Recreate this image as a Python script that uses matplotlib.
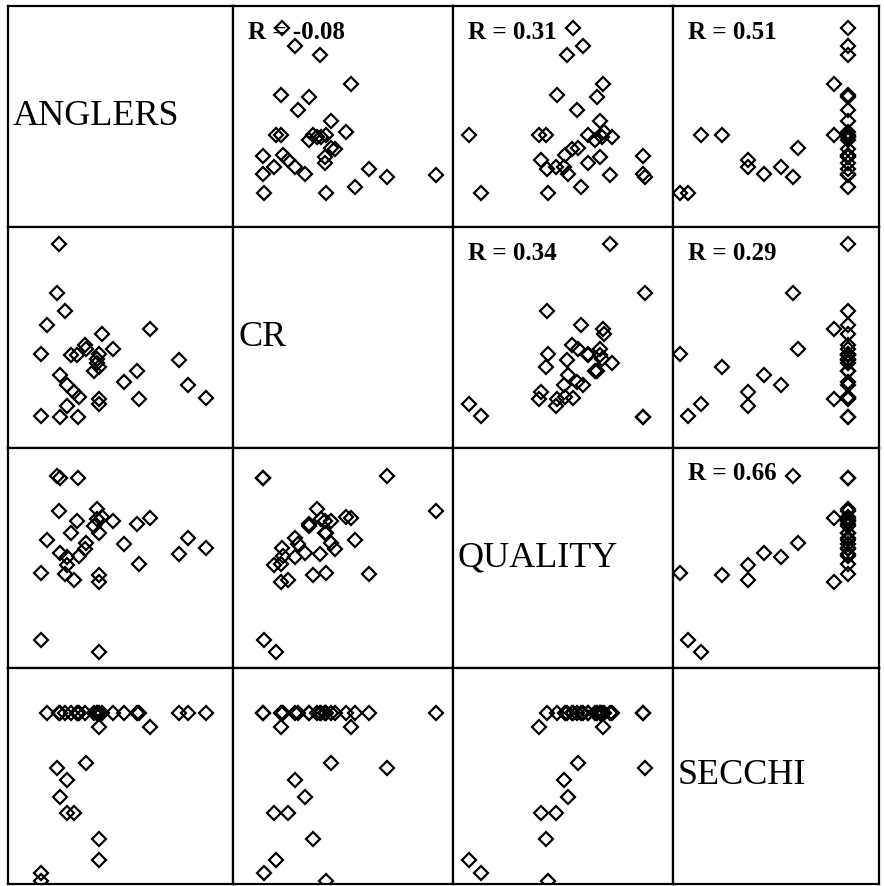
import matplotlib.pyplot as plt

# scatterplot matrix, values (panel units, 0-220)
names = ["ANGLERS", "CR", "QUALITY", "SECCHI"]

anglers = [78, 49, 59, 52, 59, 66, 91, 91, 33, 33, 91, 142,
           51, 57, 39, 94, 77, 105, 63, 69, 91, 171, 89, 86,
           129, 116, 180, 71, 198, 131, 52, 70, 89]
cr = [98, 154, 62, 72, 41, 55, 80, 43, 31, 93, 48, 118,
      203, 136, 122, 113, 102, 98, 92, 92, 93, 87, 84, 76,
      76, 65, 62, 50, 49, 48, 30, 30, 88]
quality = [125, 192, 111, 115, 103, 88, 93, 16, 28, 95, 86, 150,
           157, 94, 128, 151, 119, 147, 135, 147, 135, 114, 159, 142,
           144, 124, 130, 112, 120, 104, 190, 190, 149]
secchi = [125, 120, 108, 91, 75, 75, 49, 28, 15, 7, 161, 161,
          175, 175, 175, 175, 175, 175, 175, 175, 175, 175, 175, 175,
          175, 175, 175, 175, 175, 175, 175, 175, 175]

# correlation labels shown in the upper triangle (row, col, text)
r_labels = [(0, 1, "-0.08"), (0, 2, "0.31"), (0, 3, "0.51"),
            (1, 2, "0.34"), (1, 3, "0.29"), (2, 3, "0.66")]

data = [anglers, cr, quality, secchi]

# panel edges in pixels
col_left = [8, 233, 453, 673]
col_right = [233, 453, 673, 879]
row_top = [6, 227, 448, 668]
row_bottom = [227, 448, 668, 884]

W, H = 884, 886
fig = plt.figure(figsize=(W / 100, H / 100), dpi=100)
serif = "Liberation Serif"

axes = {}
for i in range(4):
    for j in range(4):
        w = col_right[j] - col_left[j]
        h = row_bottom[i] - row_top[i]
        ax = fig.add_axes([col_left[j] / W, 1 - row_bottom[i] / H, w / W, h / H])
        ax.set_xlim(0, w)
        ax.set_ylim(220 - h, 220)
        ax.set_xticks([])
        ax.set_yticks([])
        for sp in ax.spines.values():
            sp.set_linewidth(1.6)
            sp.set_color("black")
        if i == j:
            ax.text(5, 220 - h / 2, names[i], fontsize=26, family=serif,
                    ha="left", va="center")
        else:
            ax.plot(data[j], data[i], linestyle="none", marker="D",
                    markersize=6.8, markerfacecolor="none",
                    markeredgecolor="black", markeredgewidth=1.6,
                    clip_on=True, zorder=3)
        axes[(i, j)] = ax

for i, j, txt in r_labels:
    ax = axes[(i, j)]
    ax.text(15, 220 - 26, "R = " + txt, fontsize=18, family=serif,
            fontweight="bold", ha="left", va="center", zorder=2)

fig.savefig("out.png", dpi=100)
